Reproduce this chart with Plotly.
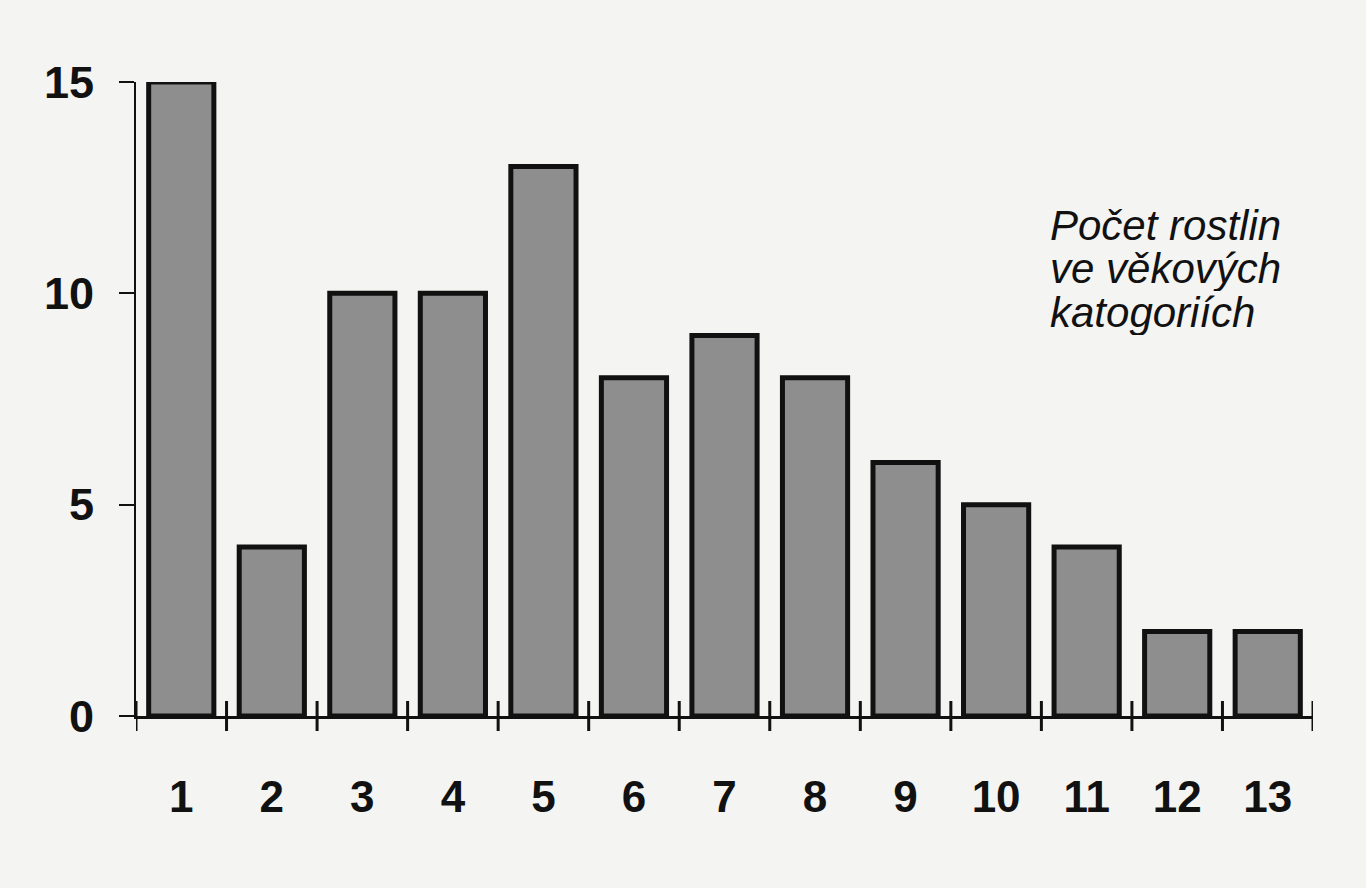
import plotly.graph_objects as go

categories = ["1", "2", "3", "4", "5", "6", "7", "8", "9", "10", "11", "12", "13"]
counts = [15, 4, 10, 10, 13, 8, 9, 8, 6, 5, 4, 2, 2]
y_ticks = [0, 5, 10, 15]
note_lines = ["Počet rostlin", "ve věkových", "katogoriích"]

xpos = list(range(1, len(categories) + 1))

fig = go.Figure()
fig.add_trace(go.Bar(
    x=xpos, y=counts,
    marker=dict(color="#8e8e8e", line=dict(color="#111111", width=5)),
    width=0.72,
    hoverinfo="skip",
))

# boundary ticks crossing the x axis
shapes = []
for i in range(len(categories) + 1):
    b = 0.5 + i
    shapes.append(dict(type="line", xref="x", yref="paper", xsizemode="scaled",
                       ysizemode="pixel", yanchor=0, x0=b, x1=b, y0=-15, y1=15,
                       line=dict(color="#111111", width=3)))

annotations = []
for k, line in enumerate(note_lines):
    annotations.append(dict(
        text=line, xref="paper", yref="paper", x=0.775, y=0.775 - k * 0.069,
        xanchor="left", yanchor="middle", showarrow=False, height=46,
        font=dict(family="Liberation Sans, Arial, sans-serif", size=42, color="#111111",
                  style="italic"),
    ))

fig.update_layout(
    width=1366, height=888,
    margin=dict(l=136, r=53, t=82, b=172),
    paper_bgcolor="#f4f4f2", plot_bgcolor="#f4f4f2",
    showlegend=False,
    shapes=shapes,
    annotations=annotations,
    font=dict(family="Liberation Sans, Arial, sans-serif", color="#111111"),
)
fig.update_xaxes(
    range=[0.5, len(categories) + 0.5],
    tickvals=xpos, ticktext=categories,
    showline=True, linecolor="#111111", linewidth=3,
    ticks="", showgrid=False, zeroline=False,
    tickfont=dict(size=44, weight="bold", color="#111111"),
    ticklabelstandoff=40,
)
fig.update_yaxes(
    range=[0, 15],
    tickvals=y_ticks, ticktext=[str(v) for v in y_ticks],
    showline=True, linecolor="#111111", linewidth=2,
    ticks="outside", ticklen=15, tickwidth=2, tickcolor="#111111",
    showgrid=False, zeroline=False,
    tickfont=dict(size=45, weight="bold", color="#111111"),
    ticklabelstandoff=16,
)

fig.write_html("out.html", config={"displayModeBar": False},
               post_script="document.body.style.margin='0';document.body.style.background='#f4f4f2';")
